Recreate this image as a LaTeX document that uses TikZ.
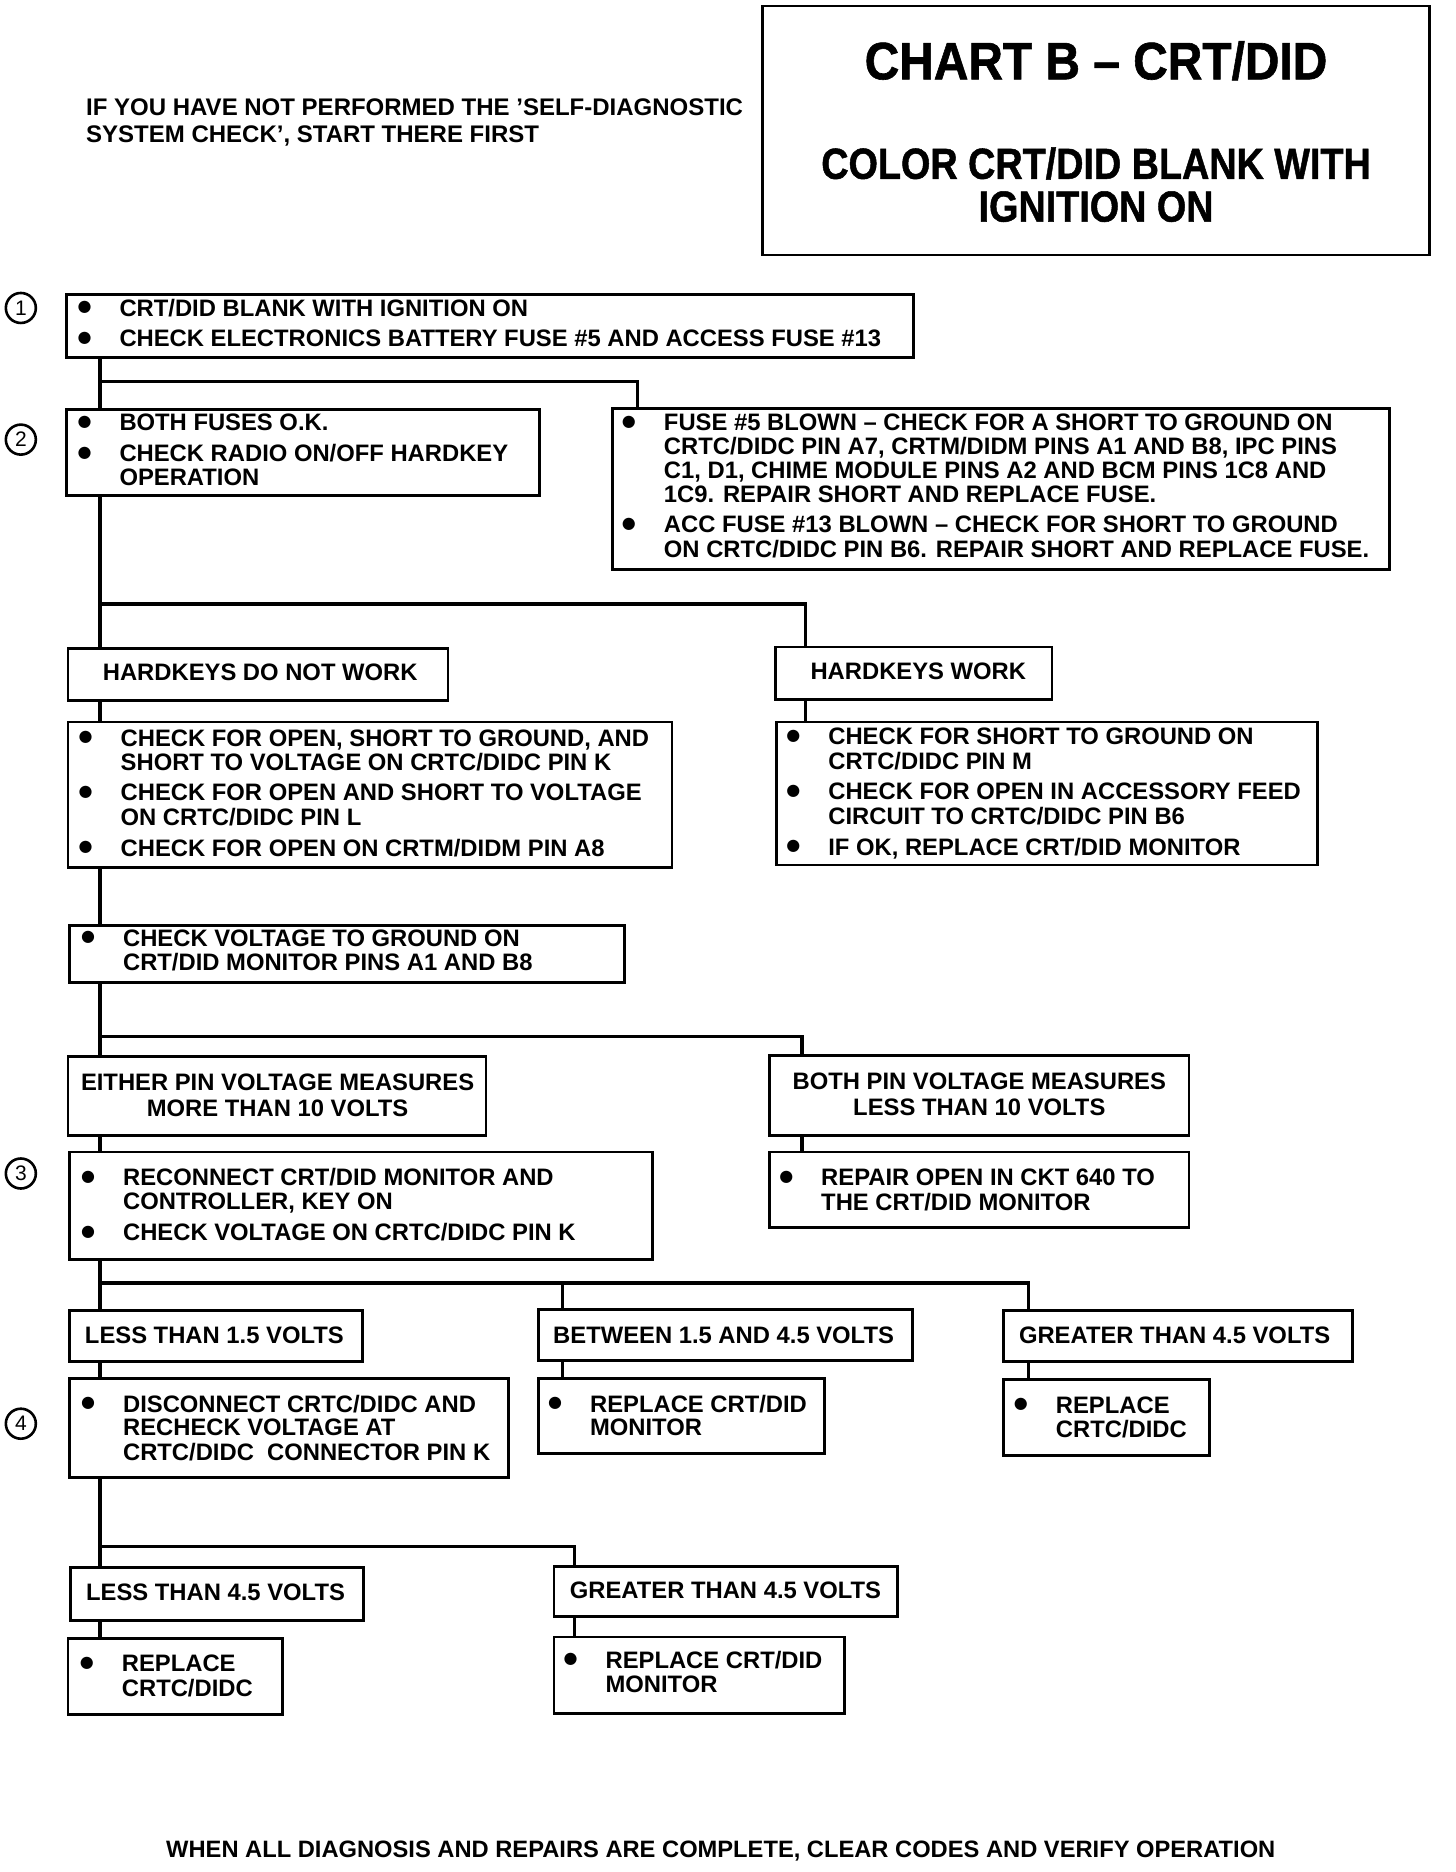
\documentclass[tikz,border=0pt]{standalone}
\usepackage{fontspec}
\usepackage{graphicx}
\setmainfont{Liberation Sans}
\newfontfamily\titlefont{Liberation Sans Bold}[FakeBold=1.2]
\newfontfamily\symfont{DejaVu Sans}
\usetikzlibrary{fit}
% bullet: its centre 2.5pt from the left, text 20pt from the left, centred on the capitals
\newcommand\bul{\makebox[20pt][l]{\makebox[5pt][c]{\raisebox{\dimexpr4.26pt-\height/2+\depth/2\relax}{\fontsize{8}{8}\selectfont\symfont ●}}}}
\newcommand\bsp{\hspace*{20pt}}
\newcommand\bgap{\\[3.3pt]}
\newcommand\lines[1]{\begin{tabular}[t]{@{}l@{}}#1\end{tabular}}
\newcommand\clines[1]{\begin{tabular}[t]{@{}c@{}}#1\end{tabular}}
\begin{document}
\begin{tikzpicture}[x=0.5957pt,y=-0.5957pt,
  box/.style={draw,line width=1.4pt,inner sep=0pt},
  con/.style={line width=1.7pt},
  txt/.style={inner sep=0pt,anchor=base west,font=\fontsize{11.9}{11.9}\selectfont\bfseries},
  ctxt/.style={inner sep=0pt,anchor=base,font=\fontsize{11.9}{11.9}\selectfont\bfseries},
  num/.style={draw,circle,line width=1.3pt,minimum size=15pt,inner sep=0pt,font=\fontsize{10.5}{10.5}\selectfont}]
\useasboundingbox (0,0) rectangle (1222.1,1571.3);
\fill[white] (0,0) rectangle (1222.1,1571.3);

% title
\node[box,fit={(640,5) (1200,214)}] (tb) {};
\node[inner sep=0pt,font=\fontsize{26.3}{26.3}\selectfont\titlefont] (tt) at (920,51) {\scalebox{0.91}[1]{CHART B – CRT/DID}};
\node[inner sep=0pt,align=center,font=\fontsize{21.7}{21.4}\selectfont\titlefont] (ts) at (920,155) {\scalebox{0.87}[1]{COLOR CRT/DID BLANK WITH}\\\scalebox{0.87}[1]{IGNITION ON}};

\node[txt,font=\fontsize{12}{12}\selectfont\bfseries] (intro) at (72,97.3) {\lines{IF YOU HAVE NOT PERFORMED THE 'SELF-DIAGNOSTIC\\[1.2pt]SYSTEM CHECK', START THERE FIRST}};

% step numbers
\node[num] (n1) at (17.5,258.5) {1};
\node[num] (n2) at (17.5,369) {2};
\node[num] (n3) at (17.5,985) {3};
\node[num] (n4) at (17.5,1195) {4};

% boxes
\node[box,fit={(56,247) (767,300)}] (b1) {};
\node[box,fit={(56,344) (453,416)}] (b2) {};
\node[box,fit={(514,343) (1166,478)}] (b3) {};
\node[box,fit={(57,544) (376,588)}] (h1) {};
\node[box,fit={(651,543) (883,587)}] (h2) {};
\node[box,fit={(57,606) (564,728)}] (d1) {};
\node[box,fit={(652,606) (1106,726)}] (d2) {};
\node[box,fit={(58,777) (524,825)}] (v1) {};
\node[box,fit={(57,887) (408,953)}] (e1) {};
\node[box,fit={(646,886) (998,953)}] (e2) {};
\node[box,fit={(58,967) (548,1057)}] (r1) {};
\node[box,fit={(646,967) (998,1030)}] (r2) {};
\node[box,fit={(58,1100) (304,1143)}] (l1) {};
\node[box,fit={(452,1099) (766,1142)}] (l2) {};
\node[box,fit={(842,1100) (1135,1143)}] (l3) {};
\node[box,fit={(58,1157) (427,1240)}] (m1) {};
\node[box,fit={(452,1157) (692,1220)}] (m2) {};
\node[box,fit={(842,1158) (1015,1222)}] (m3) {};
\node[box,fit={(59,1316) (305,1360)}] (k1) {};
\node[box,fit={(465,1315) (753,1357)}] (k2) {};
\node[box,fit={(57,1375) (237,1439)}] (p1) {};
\node[box,fit={(465,1374) (709,1438)}] (p2) {};

% texts (node x = text start - 33.6)
\node[txt] (b1t) at (66.4,265.3) {\lines{\bul CRT/DID BLANK WITH IGNITION ON\bgap\bul CHECK ELECTRONICS BATTERY FUSE \#5 AND ACCESS FUSE \#13}};
\node[txt] (b2t) at (66.4,361.3) {\lines{\bul BOTH FUSES O.K.\bgap\bul CHECK RADIO ON/OFF HARDKEY\\\bsp OPERATION}};
\node[txt] (b3t) at (523.4,361.3) {\lines{\bul FUSE \#5 BLOWN – CHECK FOR A SHORT TO GROUND ON\\\bsp CRTC/DIDC PIN A7, CRTM/DIDM PINS A1 AND B8, IPC PINS\\\bsp C1, D1, CHIME MODULE PINS A2 AND BCM PINS 1C8 AND\\\bsp 1C9. REPAIR SHORT AND REPLACE FUSE.\bgap\bul ACC FUSE \#13 BLOWN – CHECK FOR SHORT TO GROUND\\\bsp ON CRTC/DIDC PIN B6. REPAIR SHORT AND REPLACE FUSE.}};
\node[txt] (h1t) at (86,571.3) {HARDKEYS DO NOT WORK};
\node[txt] (h2t) at (680,570.3) {HARDKEYS WORK};
\node[txt] (d1t) at (67.4,626.3) {\lines{\bul CHECK FOR OPEN, SHORT TO GROUND, AND\\\bsp SHORT TO VOLTAGE ON CRTC/DIDC PIN K\bgap\bul CHECK FOR OPEN AND SHORT TO VOLTAGE\\\bsp ON CRTC/DIDC PIN L\bgap\bul CHECK FOR OPEN ON CRTM/DIDM PIN A8}};
\node[txt] (d2t) at (661.4,625.3) {\lines{\bul CHECK FOR SHORT TO GROUND ON\\\bsp CRTC/DIDC PIN M\bgap\bul CHECK FOR OPEN IN ACCESSORY FEED\\\bsp CIRCUIT TO CRTC/DIDC PIN B6\bgap\bul IF OK, REPLACE CRT/DID MONITOR}};
\node[txt] (v1t) at (69.4,794.3) {\lines{\bul CHECK VOLTAGE TO GROUND ON\\\bsp CRT/DID MONITOR PINS A1 AND B8}};
\node[ctxt] (e1t) at (233,915.3) {\clines{EITHER PIN VOLTAGE MEASURES\\[1.2pt]MORE THAN 10 VOLTS}};
\node[ctxt] (e2t) at (822,914.3) {\clines{BOTH PIN VOLTAGE MEASURES\\[1.2pt]LESS THAN 10 VOLTS}};
\node[txt] (r1t) at (69.4,995.3) {\lines{\bul RECONNECT CRT/DID MONITOR AND\\\bsp CONTROLLER, KEY ON\bgap\bul CHECK VOLTAGE ON CRTC/DIDC PIN K}};
\node[txt] (r2t) at (655.4,995.3) {\lines{\bul REPAIR OPEN IN CKT 640 TO\\\bsp THE CRT/DID MONITOR}};
\node[txt] (l1t) at (71,1127.3) {LESS THAN 1.5 VOLTS};
\node[txt] (l2t) at (464,1127.3) {BETWEEN 1.5 AND 4.5 VOLTS};
\node[txt] (l3t) at (855,1127.3) {GREATER THAN 4.5 VOLTS};
\node[txt] (m1t) at (69.4,1185.3) {\lines{\bul DISCONNECT CRTC/DIDC AND\\\bsp RECHECK VOLTAGE AT\\\bsp CRTC/DIDC\ \ CONNECTOR PIN K}};
\node[txt] (m2t) at (461.4,1185.3) {\lines{\bul REPLACE CRT/DID\\\bsp MONITOR}};
\node[txt] (m3t) at (852.4,1186.3) {\lines{\bul REPLACE\\\bsp CRTC/DIDC}};
\node[txt] (k1t) at (72,1343.3) {LESS THAN 4.5 VOLTS};
\node[txt] (k2t) at (478,1341.3) {GREATER THAN 4.5 VOLTS};
\node[txt] (p1t) at (68.4,1403.3) {\lines{\bul REPLACE\\\bsp CRTC/DIDC}};
\node[txt] (p2t) at (474.4,1400.3) {\lines{\bul REPLACE CRT/DID\\\bsp MONITOR}};

\node[inner sep=0pt,anchor=base,font=\fontsize{11.85}{12}\selectfont\bfseries] (foot) at (605,1559.3) {WHEN ALL DIAGNOSIS AND REPAIRS ARE COMPLETE, CLEAR CODES AND VERIFY OPERATION};

% connector columns and junctions
\coordinate (ca) at (84,0);
\coordinate (cb) at (535,0);
\coordinate (cc) at (676,0);
\coordinate (cd) at (673,0);
\coordinate (ce) at (472,0);
\coordinate (cf) at (863.5,0);
\coordinate (cg) at (482,0);
\coordinate (j1) at (84,320);
\coordinate (j2) at (84,507);
\coordinate (j3) at (84,870);
\coordinate (j4) at (84,1077);
\coordinate (j5) at (84,1298);

\draw[con] (ca |- b1.south) -- (ca |- b2.north);
\draw[con] (j1) -| (cb |- b3.north);
\draw[con] (ca |- b2.south) -- (ca |- h1.north);
\draw[con] (j2) -| (cc |- h2.north);
\draw[con] (ca |- h1.south) -- (ca |- d1.north);
\draw[con] (cc |- h2.south) -- (cc |- d2.north);
\draw[con] (ca |- d1.south) -- (ca |- v1.north);
\draw[con] (ca |- v1.south) -- (ca |- e1.north);
\draw[con] (j3) -| (cd |- e2.north);
\draw[con] (ca |- e1.south) -- (ca |- r1.north);
\draw[con] (cd |- e2.south) -- (cd |- r2.north);
\draw[con] (ca |- r1.south) -- (ca |- l1.north);
\draw[con] (j4) -| (cf |- l3.north);
\draw[con] (ce |- j4) -- (ce |- l2.north);
\draw[con] (ca |- l1.south) -- (ca |- m1.north);
\draw[con] (ce |- l2.south) -- (ce |- m2.north);
\draw[con] (cf |- l3.south) -- (cf |- m3.north);
\draw[con] (ca |- m1.south) -- (ca |- k1.north);
\draw[con] (j5) -| (cg |- k2.north);
\draw[con] (ca |- k1.south) -- (ca |- p1.north);
\draw[con] (cg |- k2.south) -- (cg |- p2.north);
\end{tikzpicture}
\end{document}
